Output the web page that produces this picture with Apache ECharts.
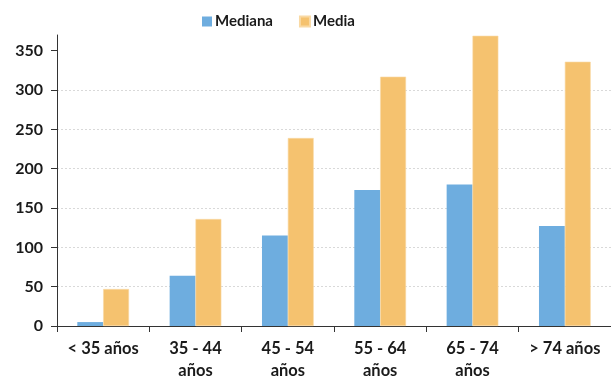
<!DOCTYPE html>
<html>
<head>
<meta charset="utf-8">
<script src="https://cdn.jsdelivr.net/npm/echarts@6/dist/echarts.min.js"></script>
<style>
  html, body { margin: 0; padding: 0; background: #ffffff; }
  #chart { width: 611px; height: 382px; }
</style>
</head>
<body>
<div id="chart"></div>
<script>
// Age brackets along the x axis
const categories = ['< 35 años', '35 - 44\naños', '45 - 54\naños', '55 - 64\naños', '65 - 74\naños', '> 74 años'];
// Median and mean per age bracket
const mediana = [5, 64, 115, 173, 180, 127];
const media = [47, 136, 239, 317, 369, 336];
// Y axis tick labels
const yTicks = [0, 50, 100, 150, 200, 250, 300, 350];

const FONT = 'Lato';
const chart = echarts.init(document.getElementById('chart'), null, { renderer: 'canvas' });

chart.setOption({
  animation: false,
  textStyle: { fontFamily: FONT },
  legend: {
    top: 9,
    left: 197,
    icon: 'rect',
    itemWidth: 10,
    itemHeight: 10,
    itemGap: 26,
    textStyle: { fontFamily: FONT, fontSize: 15, fontWeight: 'bold', color: '#1a1a1a', padding: [0, 0, 0, -2] },
    data: ['Mediana', 'Media']
  },
  grid: { left: 57, right: -6, top: 35, bottom: 52, containLabel: false },
  xAxis: {
    type: 'category',
    data: categories,
    axisLine: { lineStyle: { color: '#333333', width: 1 } },
    axisTick: { show: true, length: 6, lineStyle: { color: '#333333' } },
    axisLabel: {
      color: '#1a1a1a',
      fontFamily: FONT,
      fontSize: 16.5,
      fontWeight: 'bold',
      margin: 12,
      lineHeight: 22,
      interval: 0
    }
  },
  yAxis: {
    type: 'value',
    min: 0,
    max: 370,
    interval: 50,
    axisLine: { show: true, lineStyle: { color: '#333333', width: 1 } },
    axisTick: { show: true, length: 6, customValues: yTicks, lineStyle: { color: '#333333' } },
    axisLabel: {
      color: '#1a1a1a',
      fontFamily: FONT,
      fontSize: 16,
      fontWeight: 'bold',
      margin: 14,
      customValues: yTicks
    },
    splitLine: {
      show: true,
      showMinLine: false,
      showMaxLine: false,
      lineStyle: { color: '#d9d9d9', type: [2, 2], width: 1 }
    }
  },
  series: [
    {
      name: 'Mediana',
      type: 'bar',
      data: mediana,
      barGap: '0%',
      barCategoryGap: '44%',
      itemStyle: { color: '#6eaddf' }
    },
    {
      name: 'Media',
      type: 'bar',
      data: media,
      itemStyle: { color: '#f5c26f', borderColor: '#f9d9a4', borderWidth: 0.6 }
    }
  ]
});
</script>
</body>
</html>
